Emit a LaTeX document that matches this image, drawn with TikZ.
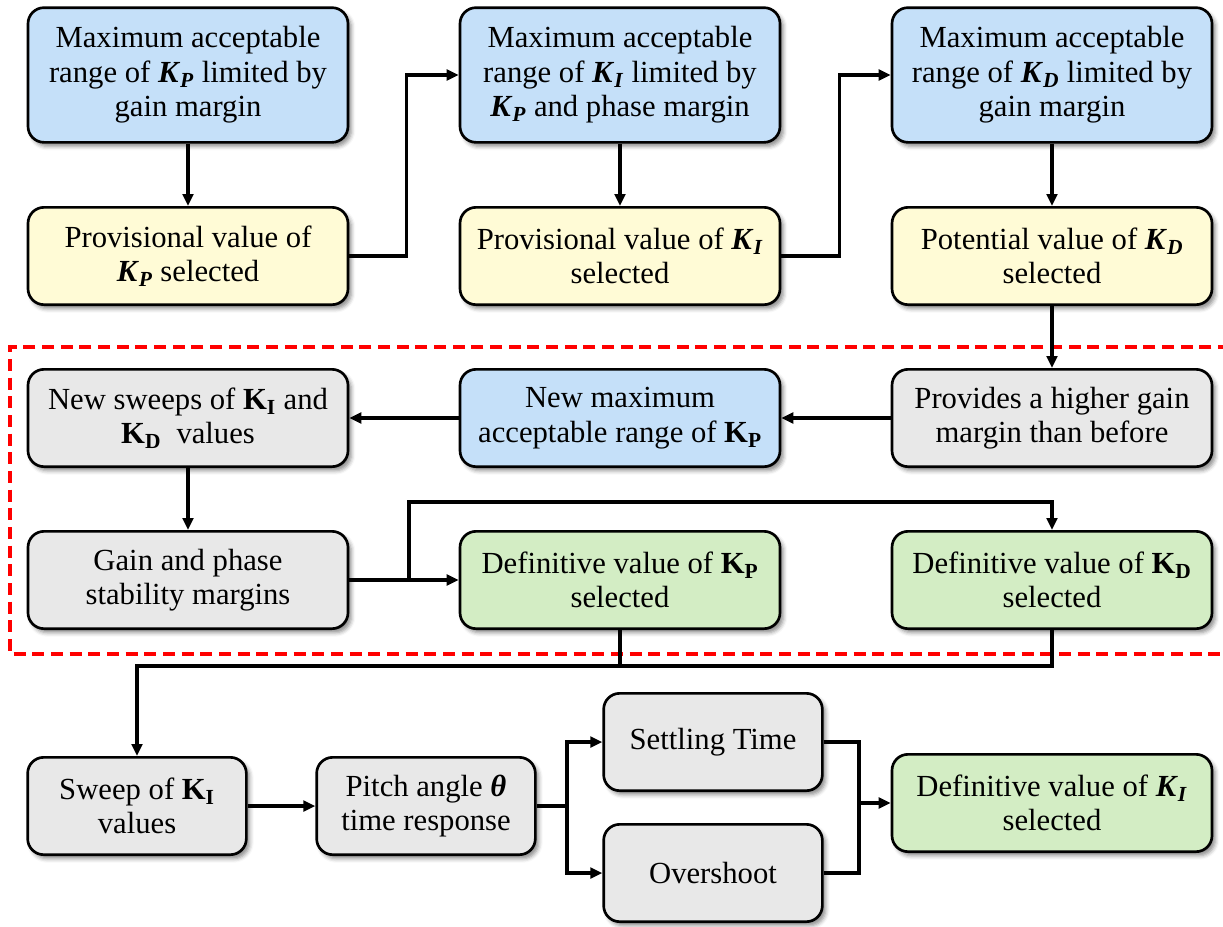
\documentclass[tikz,border=0pt]{standalone}
\usepackage{fontspec}
\setmainfont{Liberation Serif}
\usetikzlibrary{arrows.meta,shadows.blur}

% gain symbols: bold italic and bold upright
\newcommand{\Kbi}[1]{\textbf{\textit{K}}\textsubscript{\textbf{\textit{#1}}}}
\newcommand{\Kbu}[1]{\textbf{K}\textsubscript{\textbf{#1}}}

\definecolor{boxblue}{RGB}{197,224,249}
\definecolor{boxyellow}{RGB}{255,251,214}
\definecolor{boxgray}{RGB}{232,232,232}
\definecolor{boxgreen}{RGB}{211,237,196}
\definecolor{dashred}{RGB}{255,0,0}

\begin{document}
\begin{tikzpicture}[x=0.75pt,y=-0.75pt,
  box/.style={draw=black, line width=2pt, rounded corners=12pt, align=center,
    inner sep=0pt, font=\fontsize{23}{25.8}\selectfont,
    blur shadow={shadow xshift=2.5pt, shadow yshift=-3pt, shadow blur radius=3pt, shadow opacity=45}},
  wbox/.style={box, minimum width=240pt},
  sbox/.style={box, minimum width=164pt},
  tall/.style={minimum height=101pt},
  mid/.style={minimum height=73pt},
  blue/.style={fill=boxblue},
  yellow/.style={fill=boxyellow},
  gray/.style={fill=boxgray},
  green/.style={fill=boxgreen},
  conn/.style={line width=2.4pt, line join=miter},
  arr/.style={conn, -{Triangle[length=9pt,width=8pt]}},
  frame/.style={draw=dashred, line width=2.4pt, dash pattern=on 9pt off 5pt}
]
\useasboundingbox (0,0) rectangle (1223,926);

% dashed frame around the refinement stage
\draw[frame] (1230,347) -- (10,347) -- (10,654) -- (1230,654);

% first stage
\node[wbox,tall,blue]   (B1) at (188,75)  {Maximum acceptable\\range of \Kbi{P} limited by\\gain margin};
\node[wbox,mid,yellow]  (Y1) at (188,256) {Provisional value of\\\Kbi{P} selected};
\node[wbox,tall,blue]   (B2) at (620,75)  {Maximum acceptable\\range of \Kbi{I} limited by\\\Kbi{P} and phase margin};
\node[wbox,mid,yellow]  (Y2) at (620,256) {Provisional value of \Kbi{I}\\selected};
\node[wbox,tall,blue]   (B3) at (1052,75) {Maximum acceptable\\range of \Kbi{D} limited by\\gain margin};
\node[wbox,mid,yellow]  (Y3) at (1052,256) {Potential value of \Kbi{D}\\selected};

% refinement stage
\node[wbox,mid,gray]  (NS) at (188,418)  {New sweeps of \Kbu{I} and\\\Kbu{D}\ \ values};
\node[wbox,mid,blue]  (NM) at (620,418)  {New maximum\\acceptable range of \Kbu{P}};
\node[wbox,mid,gray]  (PH) at (1052,418) {Provides a higher gain\\margin than before};
\node[wbox,mid,gray]  (GP) at (188,580)  {Gain and phase\\stability margins};
\node[wbox,mid,green] (DP) at (620,580)  {Definitive value of \Kbu{P}\\selected};
\node[wbox,mid,green] (DD) at (1052,580) {Definitive value of \Kbu{D}\\selected};

% final stage
\node[sbox,mid,gray]  (SW) at (137,806)  {Sweep of \Kbu{I}\\values};
\node[sbox,mid,gray]  (PA) at (426,806)  {Pitch angle \textbf{\textit{θ}}\\time response};
\node[sbox,mid,gray]  (ST) at (713,742)  {Settling Time};
\node[sbox,mid,gray]  (OV) at (713,873)  {Overshoot};
\node[wbox,mid,green] (DI) at (1052,803) {Definitive value of \Kbi{I}\\selected};

% routing points
\coordinate (br)    at (409,580);
\coordinate (brtop) at (409,502);
\coordinate (jn)    at (620,666);
\coordinate (sp)    at (567,806);
\coordinate (mg)    at (859,803);

% connectors
\draw[arr] (B1) -- (Y1);
\draw[arr] (Y1.east) -- ++(57,0) |- (B2.west);
\draw[arr] (B2) -- (Y2);
\draw[arr] (Y2.east) -- ++(58,0) |- (B3.west);
\draw[arr] (B3) -- (Y3);
\draw[arr] (Y3) -- (PH);
\draw[arr] (PH) -- (NM);
\draw[arr] (NM) -- (NS);
\draw[arr] (NS) -- (GP);
\draw[arr] (GP) -- (DP);
\draw[arr] (br) -- (brtop) -| (DD.north);
\draw[arr] (DP.south) -- (jn) -| (SW.north);
\draw[conn] (DD.south) |- (jn);
\draw[arr] (SW) -- (PA);
\draw[conn] (PA.east) -- (sp);
\draw[arr] (sp) |- (ST.west);
\draw[arr] (sp) |- (OV.west);
\draw[conn] (ST.east) -| (mg);
\draw[conn] (OV.east) -| (mg);
\draw[arr] (mg) -- (DI.west);
\end{tikzpicture}
\end{document}
